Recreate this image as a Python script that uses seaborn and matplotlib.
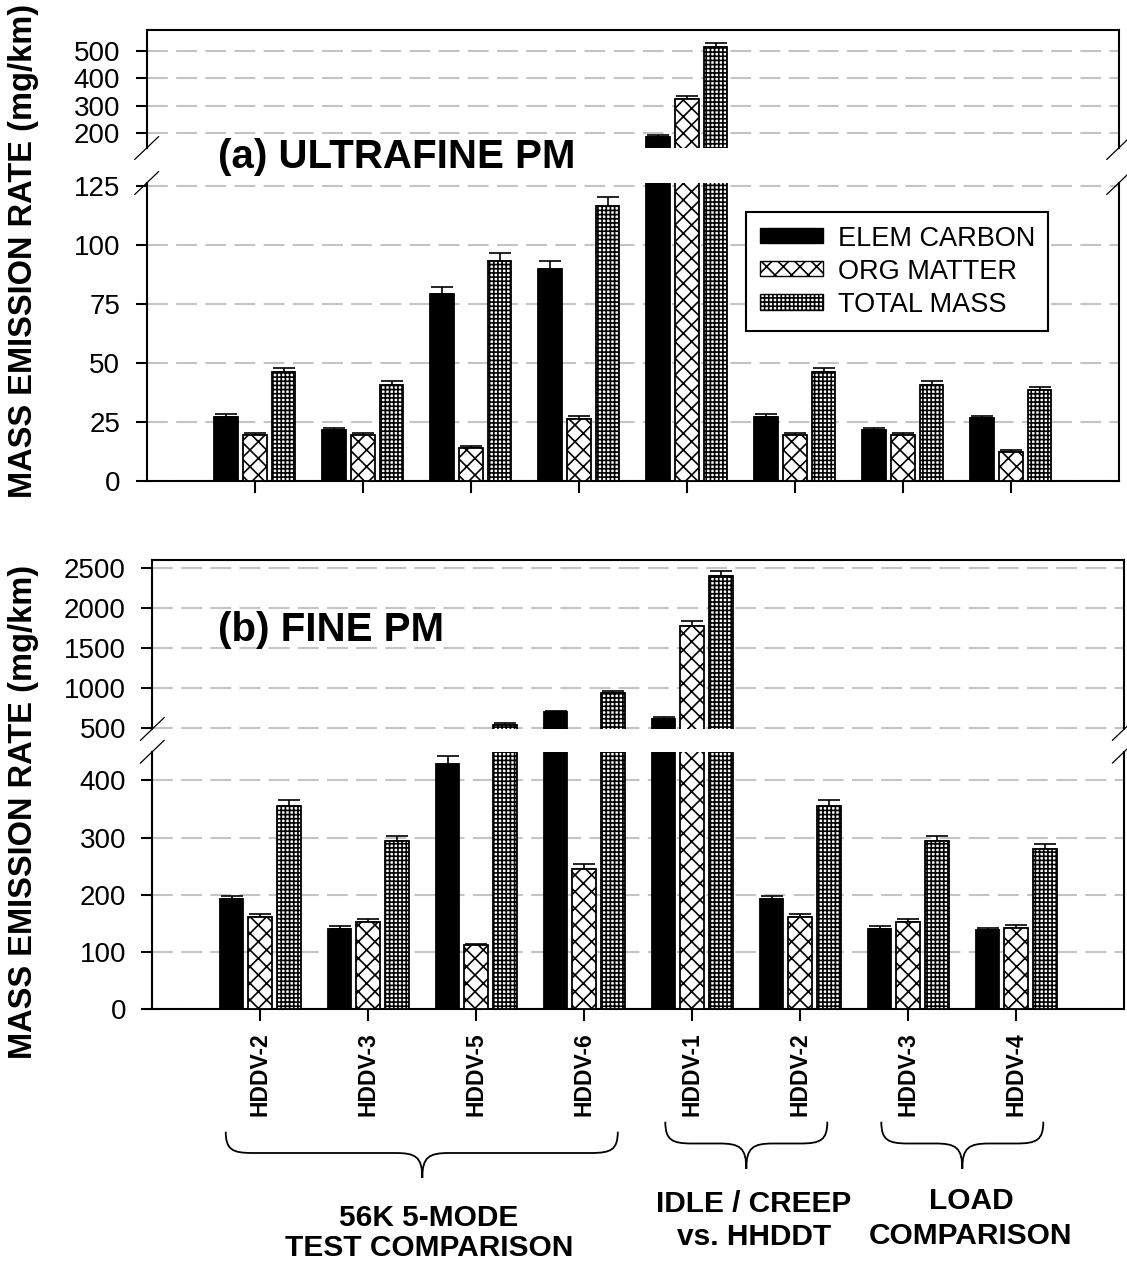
import matplotlib
matplotlib.use("Agg")
import matplotlib.pyplot as plt
import matplotlib.transforms as mtransforms
from matplotlib.path import Path
from matplotlib.patches import PathPatch, Patch
from matplotlib.container import BarContainer
import seaborn as sns
import pandas as pd

# ---------------- data ----------------
vehicles = ['HDDV-2', 'HDDV-3', 'HDDV-5', 'HDDV-6', 'HDDV-1', 'HDDV-2', 'HDDV-3', 'HDDV-4']
components = ['ELEM CARBON', 'ORG MATTER', 'TOTAL MASS']

uf_ec = [27.1, 21.6, 79.4, 90.0, 188, 27.1, 21.6, 26.4]
uf_om = [19.2, 19.2, 13.9, 26.1, 325, 19.2, 19.2, 12.0]
uf_tm = [46.2, 40.8, 93.2, 116.4, 514, 46.2, 40.7, 38.3]
uf_ec_err = [1.0, 0.9, 2.6, 3.0, 5, 1.0, 0.9, 1.0]
uf_om_err = [0.9, 0.9, 0.8, 1.3, 12, 0.9, 0.9, 0.9]
uf_tm_err = [1.7, 1.6, 3.2, 3.8, 17, 1.7, 1.6, 1.6]

fn_ec = [192.7, 140.8, 428.5, 700, 616, 192.7, 140.8, 138.5]
fn_om = [161.8, 152.5, 111.8, 245, 1779, 161.8, 152.5, 141.5]
fn_tm = [354.6, 294, 540, 937, 2400, 354.6, 294, 279.5]
fn_ec_err = [6, 5, 14, 20, 21, 6, 5, 4]
fn_om_err = [5, 4.5, 3, 8, 62, 5, 4.5, 5]
fn_tm_err = [11, 9, 20, 25, 70, 11, 9, 9]

group_spans = [(-0.32, 3.31, 1.5), (3.75, 5.25, 4.5), (5.75, 7.25, 6.5)]
group_text_x = [1.56, 4.57, 6.58]
group_labels = [['56K 5-MODE', 'TEST COMPARISON'], ['IDLE / CREEP', 'vs. HHDDT'], ['LOAD', 'COMPARISON']]

# ---------------- style ----------------
sns.set_style('white')
plt.rcParams['font.family'] = ['Liberation Sans', 'DejaVu Sans']
plt.rcParams['hatch.linewidth'] = 1.2
plt.rcParams['hatch.color'] = 'black'
for k in ('text.color', 'axes.labelcolor', 'xtick.color', 'ytick.color', 'axes.edgecolor'):
    plt.rcParams[k] = 'black'

W, H = 1127, 1261
fig = plt.figure(figsize=(W / 100, H / 100), dpi=100)


def make_df(ec, om, tm):
    rows = []
    for comp, vals in zip(components, (ec, om, tm)):
        for i, v in enumerate(vals):
            rows.append({'slot': i, 'component': comp, 'value': v})
    return pd.DataFrame(rows)


pal = {'ELEM CARBON': 'black', 'ORG MATTER': 'white', 'TOTAL MASS': 'white'}
hatches = ['', 'xx', '++++']


def px_axes(left, top, bottom, width):
    return fig.add_axes([left / W, 1 - bottom / H, width / W, (bottom - top) / H])


def draw(ax, df, errs, ylim, yticks):
    sns.barplot(data=df, x='slot', y='value', hue='component', hue_order=components,
                palette=pal, width=0.8, gap=0.17, edgecolor='black', linewidth=1.3,
                legend=False, ax=ax, errorbar=None)
    bar_conts = [c for c in ax.containers if isinstance(c, BarContainer)]
    for j, cont in enumerate(bar_conts):
        pats = sorted(cont.patches, key=lambda p: p.get_x())
        xs, hs = [], []
        for p in pats:
            p.set_hatch(hatches[j])
            p.set_zorder(3)
            xs.append(p.get_x() + p.get_width() / 2)
            hs.append(p.get_height())
        ax.errorbar(xs, hs, yerr=[[0] * len(errs[j]), errs[j]], fmt='none', ecolor='black',
                    elinewidth=1.2, capsize=8, capthick=1.2, zorder=2.8)
    ax.set_xlim(-1, 8)
    ax.set_ylim(*ylim)
    ax.set_yticks(yticks)
    ax.set_yticklabels([str(t) for t in yticks])
    ax.set_xlabel('')
    ax.set_ylabel('')
    ax.set_axisbelow(True)
    ax.yaxis.grid(True, color='#c4c4c4', linestyle=(0, (10, 4)), linewidth=1.5)
    ax.xaxis.grid(False)
    ax.tick_params(axis='y', direction='out', length=8, width=1.5, pad=11, labelsize=20,
                   left=True, colors='black')
    for s in ax.spines.values():
        s.set_linewidth(1.5)
        s.set_color('black')


def breaks(ax, ycorner):
    for xc in (0, 1):
        tr = fig.dpi_scale_trans + mtransforms.ScaledTranslation(xc, ycorner, ax.transAxes)
        ax.plot([-0.12, 0.12], [-0.115, 0.115], transform=tr, clip_on=False, color='black', lw=0.9)


def finish_pair(ax_t, ax_b, labels):
    ax_t.spines['bottom'].set_visible(False)
    ax_t.tick_params(axis='x', bottom=False, labelbottom=False)
    ax_b.spines['top'].set_visible(False)
    ax_b.set_xticks(range(len(vehicles)))
    ax_b.tick_params(axis='x', direction='out', length=8.5, width=1.5, bottom=True, pad=8,
                     colors='black')
    if labels:
        ax_b.set_xticklabels(vehicles, rotation=90, fontweight='bold', fontsize=16.5)
    else:
        ax_b.set_xticklabels([''] * len(vehicles))
    breaks(ax_t, 0)
    breaks(ax_b, 1)


# ---------------- panel (a) ----------------
df_a = make_df(uf_ec, uf_om, uf_tm)
errs_a = [uf_ec_err, uf_om_err, uf_tm_err]
a_top = px_axes(146.7, 30, 148, 972)
a_bot = px_axes(146.7, 183, 480.7, 972)
draw(a_top, df_a, errs_a, (146.4, 576.6), [200, 300, 400, 500])
draw(a_bot, df_a, errs_a, (0, 126.3), [0, 25, 50, 75, 100, 125])
finish_pair(a_top, a_bot, False)

# ---------------- panel (b) ----------------
df_b = make_df(fn_ec, fn_om, fn_tm)
errs_b = [fn_ec_err, fn_om_err, fn_tm_err]
b_top = px_axes(152.3, 560, 729, 972)
b_bot = px_axes(152.3, 751.7, 1009.3, 972)
draw(b_top, df_b, errs_b, (491, 2604), [500, 1000, 1500, 2000, 2500])
draw(b_bot, df_b, errs_b, (0, 450), [0, 100, 200, 300, 400])
finish_pair(b_top, b_bot, True)

# ---------------- texts ----------------
fig.text(24 / W, 1 - 251 / H, 'MASS EMISSION RATE (mg/km)', rotation=90, ha='center', va='center',
         fontsize=23.5, fontweight='bold')
fig.text(24 / W, 1 - 812 / H, 'MASS EMISSION RATE (mg/km)', rotation=90, ha='center', va='center',
         fontsize=23.5, fontweight='bold')
fig.text(218 / W, 1 - 157 / H, '(a) ULTRAFINE PM', ha='left', va='center', fontsize=29,
         fontweight='bold')
fig.text(218 / W, 1 - 630 / H, '(b) FINE PM', ha='left', va='center', fontsize=29,
         fontweight='bold')

leg = fig.legend(handles=[Patch(facecolor=pal[c], edgecolor='black', hatch=h, linewidth=1.0)
                          for c, h in zip(components, hatches)],
                 labels=components, loc='upper left', bbox_to_anchor=(746 / W, 1 - 212 / H),
                 bbox_transform=fig.transFigure, borderaxespad=0, frameon=True, fancybox=False,
                 edgecolor='black', framealpha=1, fontsize=19.5, handlelength=2.33,
                 handleheight=0.48, handletextpad=0.55, labelspacing=0.26, borderpad=0.5)
leg.get_frame().set_linewidth(1.5)

# ---------------- braces & group labels ----------------
ypix = mtransforms.Affine2D().scale(1.0 / W, -1.0 / H).translate(0, 1) + fig.transFigure
blend = mtransforms.blended_transform_factory(b_bot.transData, ypix)
brace_y = [(1131.7, 1153, 1178), (1121.7, 1143.5, 1169), (1121.7, 1143.5, 1169)]
text_base = [(1226, 1256), (1212, 1245), (1209, 1244)]
r = 0.25
for (x0, x1, xc), (yt, yh, ytip), tx, lines, (b1, b2) in zip(group_spans, brace_y, group_text_x,
                                                            group_labels, text_base):
    verts = [(x0, yt),
             (x0, yt + (yh - yt) * 0.85), (x0 + r * 0.25, yh), (x0 + r, yh),
             (xc - r, yh),
             (xc - r * 0.25, yh), (xc, yh + (ytip - yh) * 0.15), (xc, ytip),
             (xc, yh + (ytip - yh) * 0.15), (xc + r * 0.25, yh), (xc + r, yh),
             (x1 - r, yh),
             (x1 - r * 0.25, yh), (x1, yt + (yh - yt) * 0.85), (x1, yt)]
    codes = [Path.MOVETO, Path.CURVE4, Path.CURVE4, Path.CURVE4, Path.LINETO,
             Path.CURVE4, Path.CURVE4, Path.CURVE4, Path.CURVE4, Path.CURVE4, Path.CURVE4,
             Path.LINETO, Path.CURVE4, Path.CURVE4, Path.CURVE4]
    fig.add_artist(PathPatch(Path(verts, codes), transform=blend, facecolor='none',
                             edgecolor='black', lw=1.3, clip_on=False))
    for s, yb in zip(lines, (b1, b2)):
        fig.text(tx, yb, s, transform=blend, ha='center', va='baseline', fontsize=21.5,
                 fontweight='bold')

fig.savefig('out.png', dpi=100)
